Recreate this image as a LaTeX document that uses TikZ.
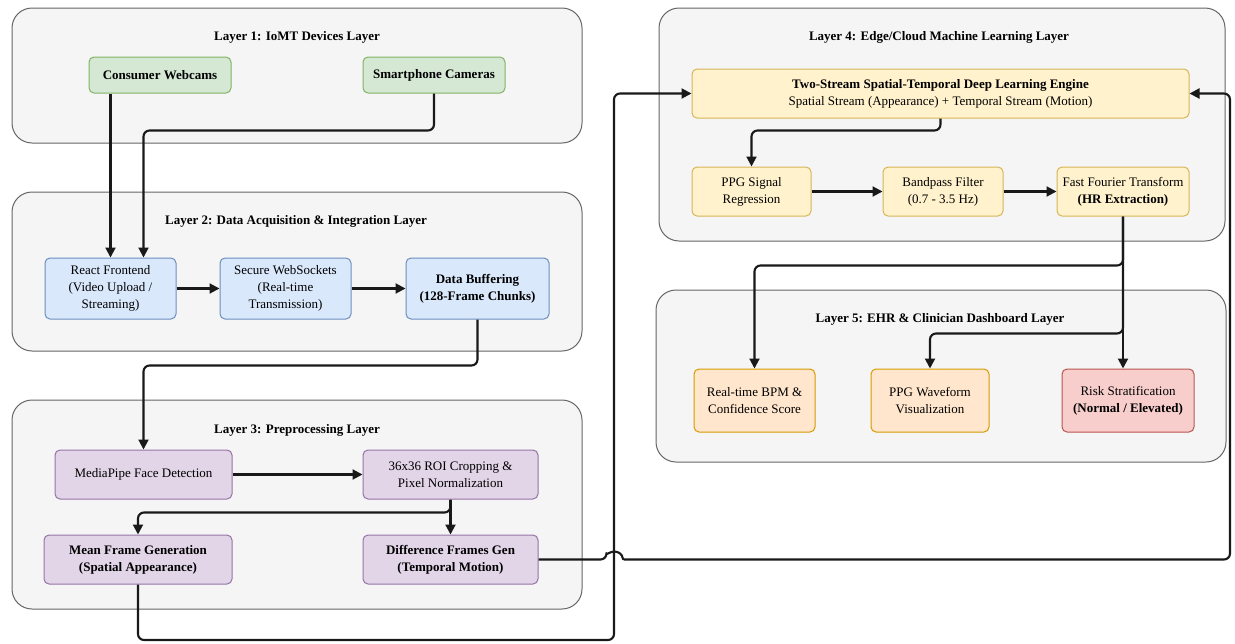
\documentclass[tikz,border=0pt]{standalone}
\usepackage{fontspec}
\setmainfont{Liberation Serif}
\usepackage{tikz}
\usepackage{xcolor}
\usetikzlibrary{arrows.meta}

\definecolor{layerfill}{HTML}{F5F5F5}
\definecolor{layerline}{HTML}{666666}
\definecolor{devfill}{HTML}{D5E8D4}
\definecolor{devline}{HTML}{82B366}
\definecolor{acqfill}{HTML}{DAE8FC}
\definecolor{acqline}{HTML}{6C8EBF}
\definecolor{prefill}{HTML}{E1D5E7}
\definecolor{preline}{HTML}{9673A6}
\definecolor{mlfill}{HTML}{FFF2CC}
\definecolor{mlline}{HTML}{D6B656}
\definecolor{outfill}{HTML}{FFE6CC}
\definecolor{outline}{HTML}{D79B00}
\definecolor{riskfill}{HTML}{F8CECC}
\definecolor{riskline}{HTML}{B85450}

\begin{document}
\begin{tikzpicture}[x=1pt, y=-1pt,
    font=\fontsize{13}{17}\selectfont,
    layer/.style={draw=layerline, fill=layerfill, line width=1pt, rounded corners=20pt},
    title/.style={font=\fontsize{13}{17}\selectfont\bfseries},
    box/.style={line width=1pt, rounded corners=5pt, align=center, inner sep=0pt},
    devbox/.style={box, draw=devline, fill=devfill},
    acqbox/.style={box, draw=acqline, fill=acqfill},
    prebox/.style={box, draw=preline, fill=prefill},
    mlbox/.style={box, draw=mlline, fill=mlfill},
    outbox/.style={box, draw=outline, fill=outfill},
    riskbox/.style={box, draw=riskline, fill=riskfill},
    flow/.style={-{Triangle[length=10pt,width=10pt]}, line width=2.1pt, draw=black!90, rounded corners=6pt}]
    \useasboundingbox (0,0) rectangle (1235,643);

    % layers
    \draw[layer] (12,8) rectangle (582,143);
    \draw[layer] (12,192) rectangle (582,351);
    \draw[layer] (12,400) rectangle (582,609);
    \draw[layer] (659,8) rectangle (1225,241);
    \draw[layer] (656,290) rectangle (1226,462);
    \node[title] (t1) at (297,37) {Layer 1: IoMT Devices Layer};
    \node[title] (t2) at (296,221) {Layer 2: Data Acquisition \& Integration Layer};
    \node[title] (t3) at (297,430) {Layer 3: Preprocessing Layer};
    \node[title] (t4) at (939,37) {Layer 4: Edge/Cloud Machine Learning Layer};
    \node[title] (t5) at (940,319) {Layer 5: EHR \& Clinician Dashboard Layer};

    % layer 1
    \node[devbox, minimum width=142, minimum height=36] (cw) at (160,75) {\bfseries Consumer Webcams};
    \node[devbox, minimum width=142, minimum height=36] (sc) at (434,75) {\bfseries Smartphone Cameras};

    % layer 2
    \node[acqbox, minimum width=131, minimum height=61] (rf) at (110.5,288.5) {React Frontend\\(Video Upload /\\Streaming)};
    \node[acqbox, minimum width=131, minimum height=61] (ws) at (285.5,288.5) {Secure WebSockets\\(Real-time\\Transmission)};
    \node[acqbox, minimum width=143, minimum height=61] (db) at (477.5,288.5) {\bfseries Data Buffering\\\bfseries (128-Frame Chunks)};

    % layer 3
    \node[prebox, minimum width=177, minimum height=49] (mp) at (143.5,474.5) {MediaPipe Face Detection};
    \node[prebox, minimum width=175, minimum height=49] (roi) at (450.5,474.5) {36x36 ROI Cropping \&\\Pixel Normalization};
    \node[prebox, minimum width=188, minimum height=49] (mf) at (138,559.5) {\bfseries Mean Frame Generation\\\bfseries (Spatial Appearance)};
    \node[prebox, minimum width=175, minimum height=49] (df) at (450.5,559.5) {\bfseries Difference Frames Gen\\\bfseries (Temporal Motion)};

    % layer 4
    \node[mlbox, minimum width=497, minimum height=49] (ts) at (940.5,93.5) {\bfseries Two-Stream Spatial-Temporal Deep Learning Engine\\Spatial Stream (Appearance) + Temporal Stream (Motion)};
    \node[mlbox, minimum width=119, minimum height=49] (ppg) at (751.5,191.5) {PPG Signal\\Regression};
    \node[mlbox, minimum width=120, minimum height=49] (bp) at (943,191.5) {Bandpass Filter\\(0.7 - 3.5 Hz)};
    \node[mlbox, minimum width=132, minimum height=49] (fft) at (1123,191.5) {Fast Fourier Transform\\\bfseries (HR Extraction)};

    % layer 5
    \node[outbox, minimum width=121, minimum height=63] (bpm) at (754.5,400.5) {Real-time BPM \&\\Confidence Score};
    \node[outbox, minimum width=118, minimum height=63] (wav) at (930,400.5) {PPG Waveform\\Visualization};
    \node[riskbox, minimum width=132, minimum height=63] (risk) at (1128,400.5) {Risk Stratification\\\bfseries (Normal / Elevated)};

    % connectors
    \draw[flow] (cw.south -| rf.north) -- (rf.north);
    \draw[flow] (sc.south) -- ++(0,37) -| ([xshift=33pt]rf.north);
    \draw[flow] (rf) -- (ws);
    \draw[flow] (ws) -- (db);
    \draw[flow] (db.south) -- ++(0,46) -| (mp.north);
    \draw[flow] (mp) -- (roi);
    \draw[flow] (roi.south) -- (df.north);
    \draw[flow] (roi.south) -- ++(0,13) -| (mf.north);
    \draw[flow] (mf.south) |- (614,640) |- (ts.west);
    \draw[flow] (df.east) -- ++(68,0) [rounded corners=2pt] arc[start angle=180, end angle=360, radius=8]
        [rounded corners=6pt] -- (1230,559.5) |- (ts.east);
    \draw[flow] (ts.south) -- ++(0,12) -| (ppg.north);
    \draw[flow] (ppg) -- (bp);
    \draw[flow] (bp) -- (fft);
    \draw[flow] (fft.south) -- (risk.north -| fft.south);
    \draw[flow] (fft.south) -- ++(0,49) -| (bpm.north);
    \draw[flow] (fft.south) -- ++(0,117) -| (wav.north);
\end{tikzpicture}
\end{document}
